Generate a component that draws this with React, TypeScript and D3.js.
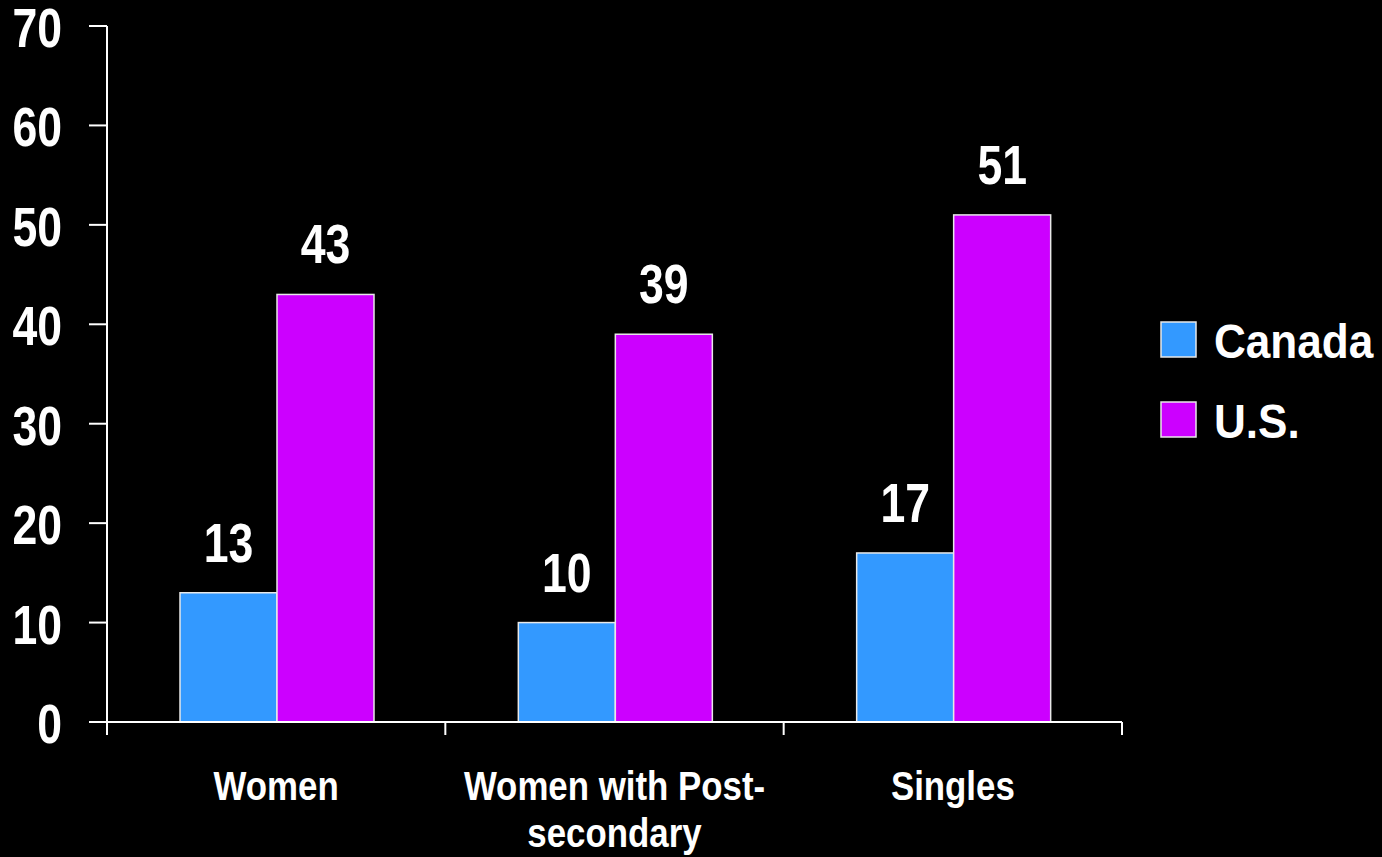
import React from "react";
import * as d3 from "d3";

const categories = ["Women", "Women with Post-secondary", "Singles"];
const categoryLines = [["Women"], ["Women with Post-", "secondary"], ["Singles"]];
const seriesNames = ["Canada", "U.S."];
const canadaValues = [13, 10, 17];
const usValues = [43, 39, 51];
const yTicks = [0, 10, 20, 30, 40, 50, 60, 70];
const colors = ["#3399FF", "#CC00FF"];

const FONT = "'Liberation Sans', Arial, sans-serif";

function NText({ x, y, sx, size, anchor, children }: { x: number; y: number; sx: number; size: number; anchor?: string; children: React.ReactNode }) {
  return (
    <text transform={`translate(${x},${y}) scale(${sx},1)`} textAnchor={anchor || "start"}
      fill="#fff" fontFamily={FONT} fontWeight="bold" fontSize={size}>{children}</text>
  );
}

export default function App() {
  const W = 1382, H = 857;
  const left = 107, right = 1122, top = 26, bottom = 722;
  const x = d3.scaleBand<string>().domain(categories).range([left, right]).paddingInner(0).paddingOuter(0);
  const y = d3.scaleLinear().domain([0, 70]).range([bottom, top]);
  const inner = d3.scaleBand<string>().domain(seriesNames).range([73, 73 + 194]).padding(0);
  const series = [canadaValues, usValues];

  return (
    <svg width={W} height={H} style={{ position: "absolute", left: 0, top: 0, background: "#000" }}>
      <rect x={0} y={0} width={W} height={H} fill="#000" />
      {categories.map((c, i) => (
        <g key={c}>
          {series.map((vals, s) => {
            const bx = (x(c) as number) + (inner(seriesNames[s]) as number);
            const by = y(vals[i]);
            return (
              <g key={s}>
                <rect x={bx} y={by} width={inner.bandwidth()} height={bottom - by}
                  fill={colors[s]} stroke="#e8e8e8" strokeWidth={1.5} />
                <NText x={bx + inner.bandwidth() / 2} y={by - 31} sx={0.81} size={55} anchor="middle">{vals[i]}</NText>
              </g>
            );
          })}
        </g>
      ))}
      <line x1={left} x2={left} y1={top} y2={bottom} stroke="#fff" strokeWidth={2} />
      {yTicks.map((t) => (
        <g key={t}>
          <line x1={89} x2={left} y1={y(t)} y2={y(t)} stroke="#fff" strokeWidth={2} />
          <NText x={62} y={y(t) + 21} sx={0.81} size={55} anchor="end">{t}</NText>
        </g>
      ))}
      <line x1={left} x2={right} y1={bottom} y2={bottom} stroke="#fff" strokeWidth={2} />
      {[...categories.map((c) => x(c) as number), right].map((px, i) => (
        <line key={i} x1={px} x2={px} y1={bottom} y2={735} stroke="#fff" strokeWidth={2} />
      ))}
      {categories.map((c, i) => (
        <g key={c}>
          {categoryLines[i].map((ln, j) => (
            <NText key={j} x={(x(c) as number) + x.bandwidth() / 2} y={800 + j * 47} sx={0.85} size={41} anchor="middle">{ln}</NText>
          ))}
        </g>
      ))}
      {seriesNames.map((n, s) => (
        <g key={n}>
          <rect x={1161} y={322 + s * 80} width={35} height={35} fill={colors[s]} stroke="#e8e8e8" strokeWidth={1.5} />
          <NText x={1214} y={358 + s * 80} sx={0.9} size={49}>{n}</NText>
        </g>
      ))}
    </svg>
  );
}
